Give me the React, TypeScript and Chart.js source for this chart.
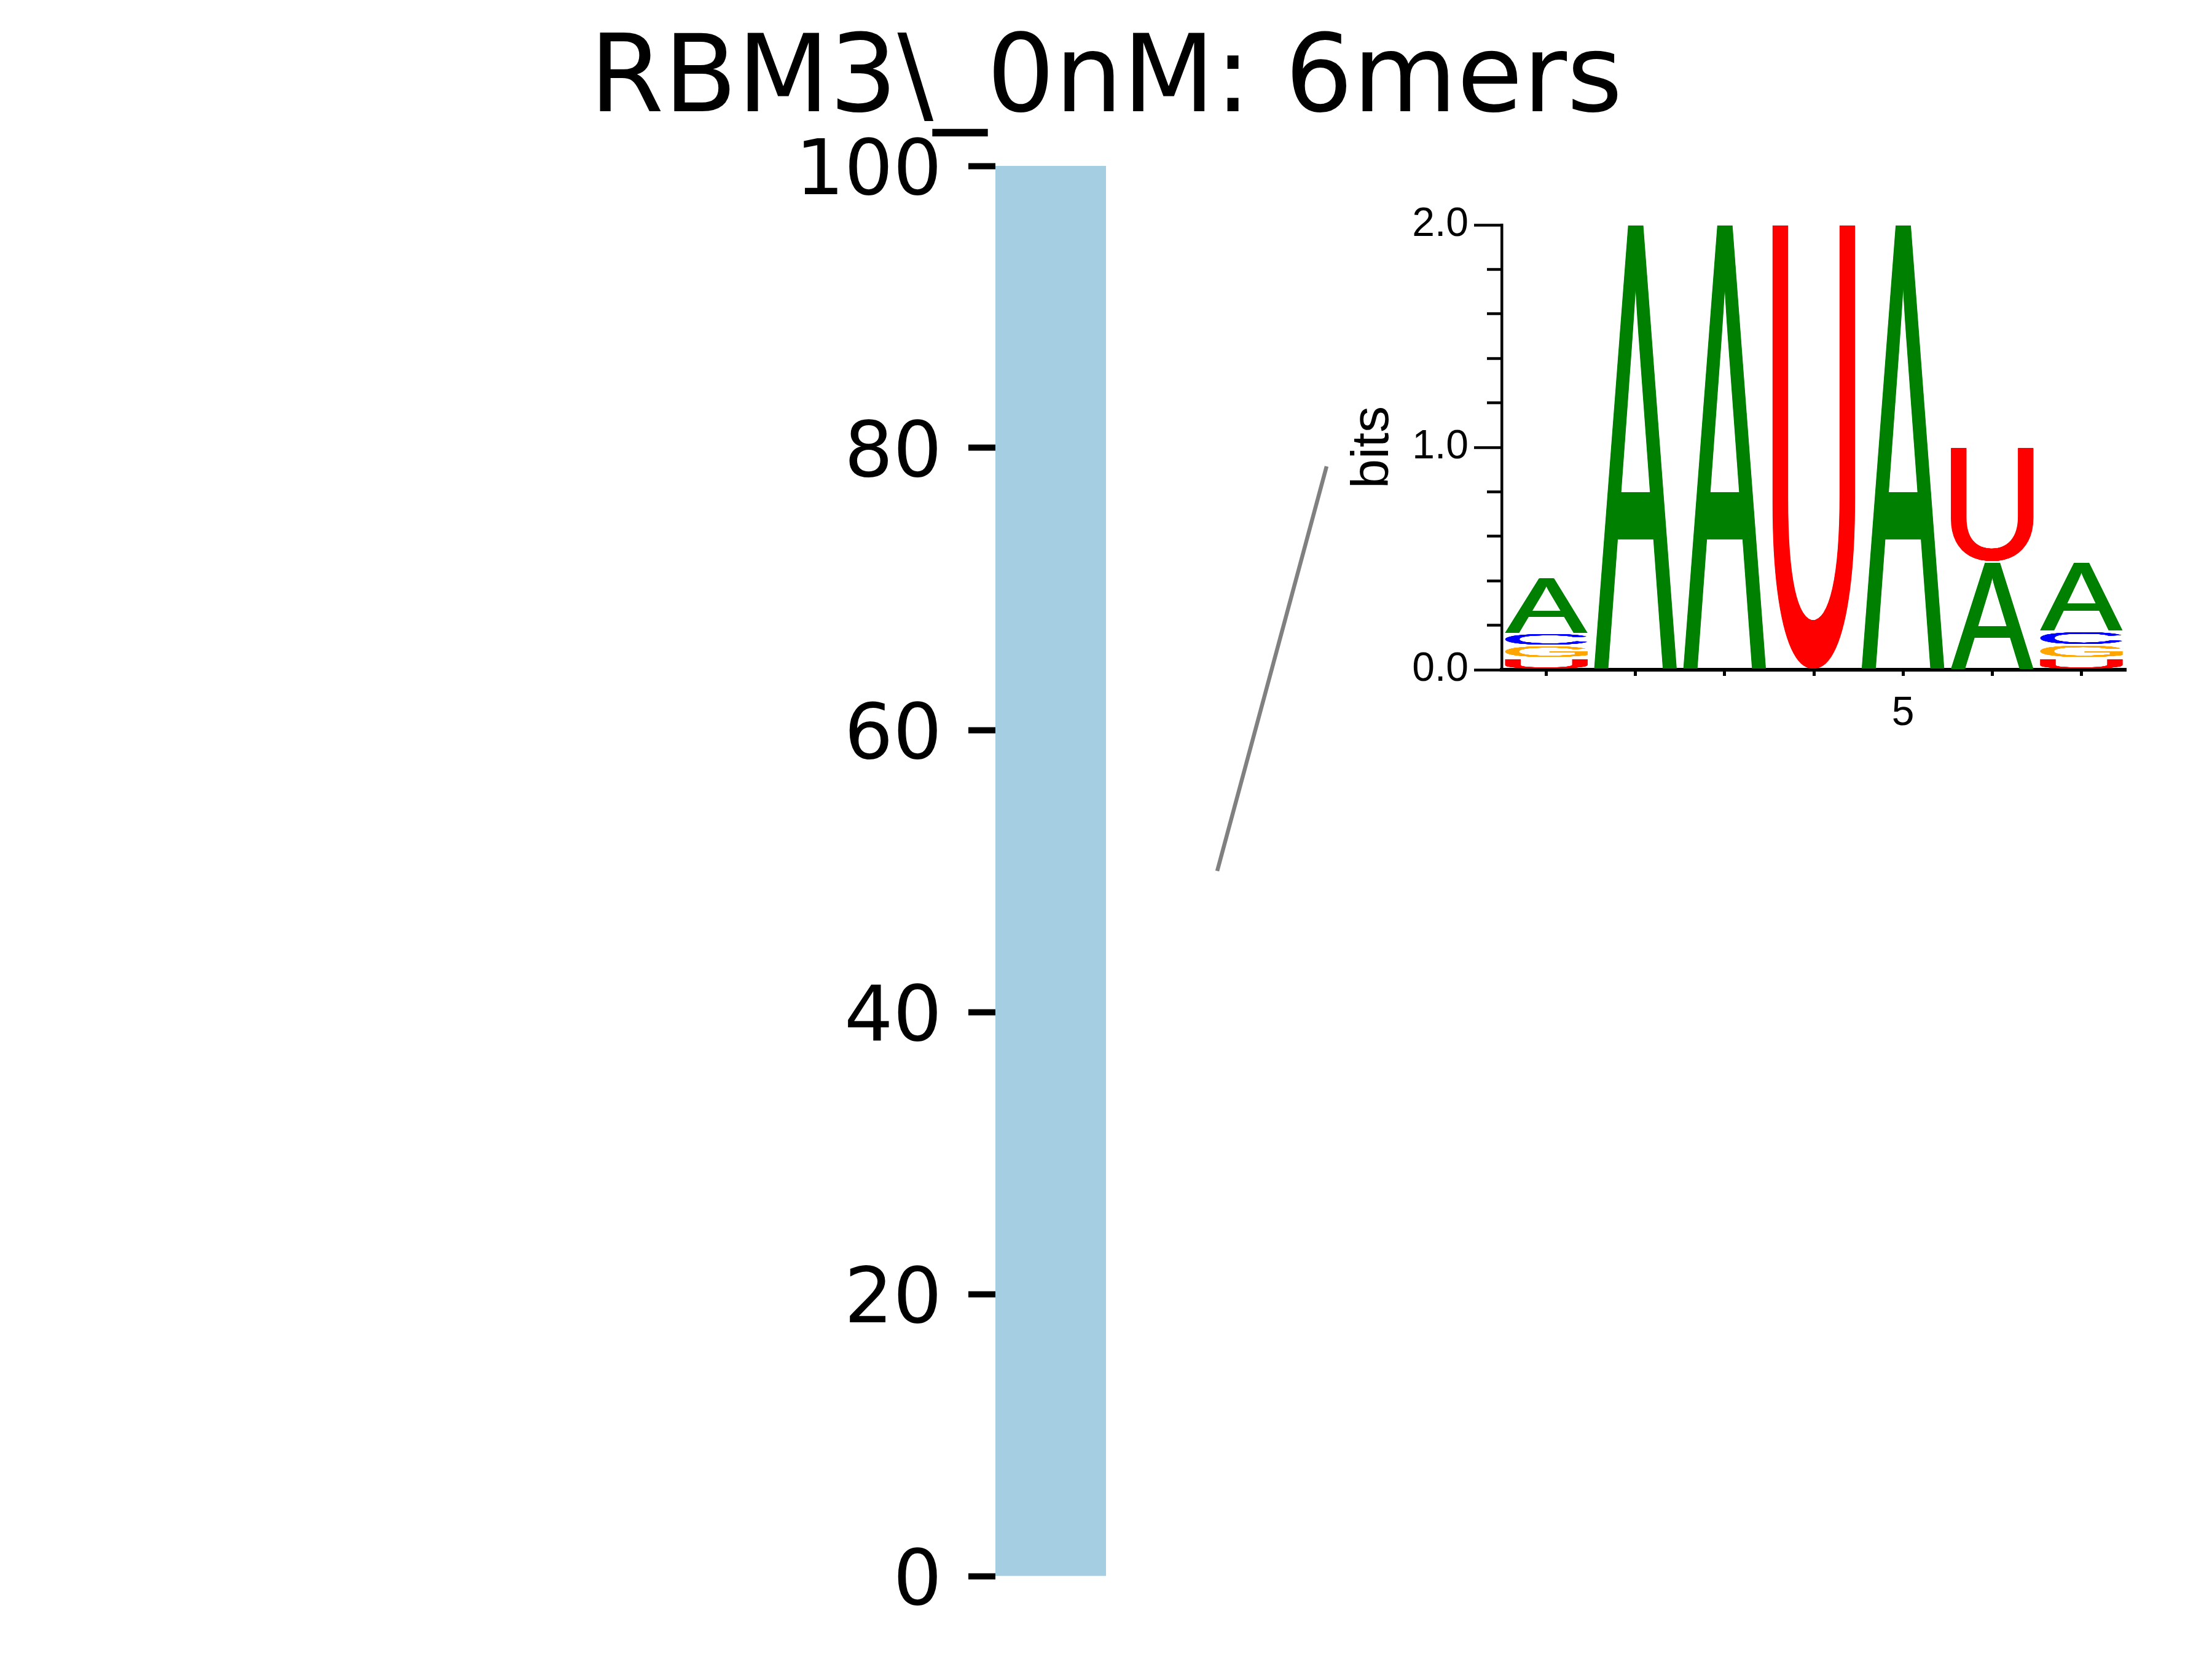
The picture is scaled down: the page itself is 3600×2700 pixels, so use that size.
import React, { useEffect, useRef } from 'react';
import { Chart, registerables } from 'chart.js';

Chart.register(...registerables);

// ---------- data ----------
const barCategories = ['RBM3_0nM'];
const barValues = [100];
const barTickStep = 20;

const logoPositions = ['1', '2', '3', '4', '5', '6', '7'];
const logoXTickLabels = ['', '', '', '', '5', '', ''];
const logoYMajorTicks = [0, 1, 2];

// stacked layers, bottom to top
const logoLayer0Letters = ['U', 'A', 'A', 'U', 'A', 'A', 'U'];
const logoLayer0Bits = [0.052, 2.0, 2.0, 2.0, 2.0, 0.485, 0.052];
const logoLayer1Letters = ['G', '', '', '', '', 'U', 'G'];
const logoLayer1Bits = [0.056, 0, 0, 0, 0, 0.515, 0.058];
const logoLayer2Letters = ['C', '', '', '', '', '', 'C'];
const logoLayer2Bits = [0.053, 0, 0, 0, 0, 0, 0.062];
const logoLayer3Letters = ['A', '', '', '', '', '', 'A'];
const logoLayer3Bits = [0.253, 0, 0, 0, 0, 0, 0.31];

const connectorBarValue = 50;

// ---------- styles ----------
const letterColors: Record<string, string> = {
  A: '#008000',
  C: '#0000ff',
  G: '#ffa500',
  U: '#ff0000',
};

const GLYPH_FONT = 'normal 400px "Liberation Sans"';
const GLYPH_STEM_SMEAR = 4;

const W = 3600;
const H = 2700;
const LOGO_LEFT = 2100;
const LOGO_TOP = 250;
const LOGO_W = 1500;
const LOGO_H = 1000;

const isMajor = (v: number) =>
  logoYMajorTicks.some((m) => Math.abs(m - v) < 1e-6);

type Bounds = { left: number; top: number; right: number; bottom: number };
const boundsCache: Record<string, Bounds> = {};

function glyphBounds(letter: string): Bounds {
  if (boundsCache[letter]) return boundsCache[letter];
  const size = 800;
  const ox = 200;
  const oy = 600;
  const c = document.createElement('canvas');
  c.width = size;
  c.height = size;
  const g = c.getContext('2d') as CanvasRenderingContext2D;
  g.font = GLYPH_FONT;
  g.textAlign = 'left';
  g.textBaseline = 'alphabetic';
  g.fillStyle = '#000';
  g.fillText(letter, ox, oy);
  const d = g.getImageData(0, 0, size, size).data;
  let minX = size, minY = size, maxX = -1, maxY = -1;
  for (let y = 0; y < size; y++) {
    for (let x = 0; x < size; x++) {
      if (d[(y * size + x) * 4 + 3] > 64) {
        if (x < minX) minX = x;
        if (x > maxX) maxX = x;
        if (y < minY) minY = y;
        if (y > maxY) maxY = y;
      }
    }
  }
  const b = {
    left: minX - ox,
    top: minY - oy,
    right: maxX + 1 - ox,
    bottom: maxY + 1 - oy,
  };
  boundsCache[letter] = b;
  return b;
}

function drawGlyph(
  ctx: CanvasRenderingContext2D,
  letter: string,
  left: number,
  top: number,
  w: number,
  h: number,
  color: string
) {
  if (w <= 0 || h <= 0) return;
  const b = glyphBounds(letter);
  const gw = b.right - b.left;
  const gh = b.bottom - b.top;
  const smear = Math.min(GLYPH_STEM_SMEAR, w * 0.05);
  const innerW = w - smear;
  for (let off = 0; off <= smear + 1e-6; off += 0.5) {
    ctx.save();
    ctx.font = GLYPH_FONT;
    ctx.textAlign = 'left';
    ctx.textBaseline = 'alphabetic';
    ctx.translate(left + off, top);
    ctx.scale(innerW / gw, h / gh);
    ctx.fillStyle = color;
    ctx.fillText(letter, -b.left, -b.top);
    ctx.restore();
  }
}

const layerLetters = [
  logoLayer0Letters,
  logoLayer1Letters,
  logoLayer2Letters,
  logoLayer3Letters,
];

const glyphPlugin = {
  id: 'logoGlyphs',
  afterDatasetsDraw(chart: any) {
    const ctx = chart.ctx as CanvasRenderingContext2D;
    const inset = 1.5;
    chart.data.datasets.forEach((ds: any, di: number) => {
      const meta = chart.getDatasetMeta(di);
      const letters = layerLetters[di];
      meta.data.forEach((el: any, i: number) => {
        const L = letters[i];
        const v = ds.data[i];
        if (!L || !v) return;
        const p = el.getProps(['x', 'y', 'base', 'width'], true);
        const top = Math.min(p.y, p.base) + inset;
        const bottom = Math.max(p.y, p.base) - inset;
        drawGlyph(ctx, L, p.x - p.width / 2, top, p.width, bottom - top, letterColors[L]);
      });
    });
  },
};

const CONNECTOR_DX = 181;
const CONNECTOR_END_X = 2159;
const CONNECTOR_END_Y = 759;

const connectorPlugin = {
  id: 'connector',
  afterDraw(chart: any) {
    const { ctx, chartArea, scales } = chart;
    const x1 = chartArea.right + CONNECTOR_DX;
    const y1 = scales.y.getPixelForValue(connectorBarValue);
    ctx.save();
    ctx.strokeStyle = '#808080';
    ctx.lineWidth = 6.5;
    ctx.lineCap = 'butt';
    ctx.beginPath();
    ctx.moveTo(x1, y1);
    ctx.lineTo(CONNECTOR_END_X, CONNECTOR_END_Y);
    ctx.stroke();
    ctx.restore();
  },
};

export default function App() {
  const mainRef = useRef<HTMLCanvasElement | null>(null);
  const logoRef = useRef<HTMLCanvasElement | null>(null);

  useEffect(() => {
    if (!mainRef.current || !logoRef.current) return;

    const main = new Chart(mainRef.current, {
      type: 'bar',
      data: {
        labels: barCategories,
        datasets: [
          {
            data: barValues,
            backgroundColor: '#a6cee3',
            borderWidth: 0,
            barPercentage: 1,
            categoryPercentage: 1,
          },
        ],
      },
      options: {
        animation: false,
        responsive: false,
        devicePixelRatio: 1,
        layout: { padding: { left: 0, right: 0, top: 0, bottom: 135 } },
        plugins: {
          legend: { display: false },
          tooltip: { enabled: false },
          title: {
            display: true,
            text: 'RBM3\\_0nM: 6mers',
            color: '#000',
            font: { family: 'DejaVu Sans', size: 174, weight: 'normal', lineHeight: 1.2 },
            padding: { top: 31, bottom: 30.2 },
          },
        },
        scales: {
          x: { display: false },
          y: {
            position: 'left',
            min: 0,
            max: 100,
            ticks: {
              stepSize: barTickStep,
              color: '#000',
              font: { family: 'DejaVu Sans', size: 125 },
              padding: 43,
              labelOffset: 14,
            },
            grid: {
              display: true,
              drawOnChartArea: false,
              drawTicks: true,
              tickLength: 44,
              tickWidth: 10,
              tickColor: '#000',
            },
            border: { display: false },
            afterFit: (s: any) => {
              s.width = 1620;
            },
          },
          yRight: {
            type: 'linear',
            position: 'right',
            display: true,
            grid: { display: false },
            ticks: { display: false },
            border: { display: false },
            afterFit: (s: any) => {
              s.width = 1800;
            },
          },
        },
      } as any,
      plugins: [connectorPlugin],
    });

    const mkDs = (bits: number[]) => ({
      data: bits,
      backgroundColor: 'rgba(0,0,0,0)',
      borderWidth: 0,
      barPercentage: 0.925,
      categoryPercentage: 1,
    });

    const logo = new Chart(logoRef.current, {
      type: 'bar',
      data: {
        labels: logoPositions,
        datasets: [
          mkDs(logoLayer0Bits),
          mkDs(logoLayer1Bits),
          mkDs(logoLayer2Bits),
          mkDs(logoLayer3Bits),
        ],
      },
      options: {
        animation: false,
        responsive: false,
        devicePixelRatio: 1,
        layout: { padding: { left: 0, right: 140, top: 116, bottom: 40 } },
        plugins: {
          legend: { display: false },
          tooltip: { enabled: false },
          title: { display: false },
        },
        scales: {
          x: {
            type: 'category',
            stacked: true,
            offset: true,
            grid: {
              display: true,
              offset: false,
              drawOnChartArea: false,
              drawTicks: true,
              tickLength: 10,
              tickWidth: 5,
              tickColor: '#000',
            },
            border: { display: true, color: '#000', width: 6 },
            ticks: {
              autoSkip: false,
              maxRotation: 0,
              minRotation: 0,
              color: '#000',
              font: { family: 'Liberation Sans', size: 66 },
              padding: 22,
              callback: (_v: any, i: number) => logoXTickLabels[i],
            },
            afterFit: (s: any) => {
              s.height = 120;
            },
          },
          y: {
            type: 'linear',
            stacked: true,
            min: 0,
            max: 2,
            ticks: {
              stepSize: 0.2,
              autoSkip: false,
              color: '#000',
              font: { family: 'Liberation Sans', size: 66 },
              padding: 9,
              callback: (v: any) => (isMajor(Number(v)) ? Number(v).toFixed(1) : ''),
            },
            grid: {
              display: true,
              drawOnChartArea: false,
              drawTicks: true,
              tickLength: 45,
              tickWidth: 4.5,
              tickColor: '#000',
              tickBorderDash: (c: any) =>
                c.tick && isMajor(c.tick.value) ? [] : [0, 21, 24, 0],
            },
            border: { display: true, color: '#000', width: 4.5 },
            title: {
              display: true,
              text: 'bits',
              color: '#000',
              font: { family: 'Liberation Sans', size: 86 },
              padding: { top: 84, bottom: 0 },
            },
            afterFit: (s: any) => {
              s.width = 344;
            },
          },
        },
      } as any,
      plugins: [glyphPlugin],
    });

    return () => {
      main.destroy();
      logo.destroy();
    };
  }, []);

  return (
    <div
      style={{
        position: 'absolute',
        left: 0,
        top: 0,
        width: W,
        height: H,
        background: '#fff',
        overflow: 'hidden',
      }}
    >
      <canvas
        ref={mainRef}
        width={W}
        height={H}
        style={{ position: 'absolute', left: 0, top: 0, width: W, height: H, display: 'block' }}
      />
      <canvas
        ref={logoRef}
        width={LOGO_W}
        height={LOGO_H}
        style={{
          position: 'absolute',
          left: LOGO_LEFT,
          top: LOGO_TOP,
          width: LOGO_W,
          height: LOGO_H,
          display: 'block',
        }}
      />
    </div>
  );
}
